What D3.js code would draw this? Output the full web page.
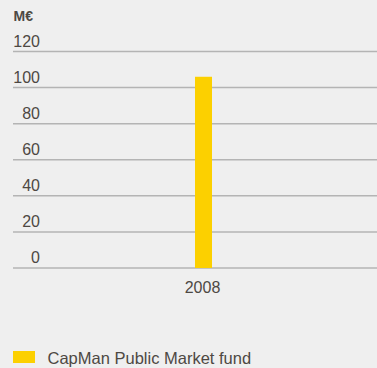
<!DOCTYPE html>
<html>
<head>
<meta charset="utf-8">
<script src="https://cdn.jsdelivr.net/npm/d3@7"></script>
<style>
  html, body { margin: 0; padding: 0; background: #efefef; }
  svg { display: block; }
  text { font-family: "Liberation Sans", Arial, Helvetica, sans-serif; fill: #4d4843; }
</style>
</head>
<body>
<svg id="chart" width="377" height="368"></svg>
<script>
// Annual values, M€
const years = ["2008"];
const publicMarketFund = [106];
const yTicks = [0, 20, 40, 60, 80, 100, 120];
const unitLabel = "M€";
const seriesName = "CapMan Public Market fund";

const W = 377, H = 368;
const barColor = "#fcd000";
const gridColor = "#b4b4b4";

const svg = d3.select("#chart");

const y = d3.scaleLinear().domain([0, 120]).range([268, 51.5]);
const x = d3.scaleBand().domain(years).range([30, 377]).paddingInner(0).paddingOuter(9.7);

// Horizontal gridlines with value labels sitting above each line
const grid = svg.append("g");
grid.selectAll("line")
  .data(yTicks)
  .join("line")
  .attr("x1", 13).attr("x2", W)
  .attr("y1", d => y(d)).attr("y2", d => y(d))
  .attr("stroke", gridColor)
  .attr("stroke-width", 1.5);

grid.selectAll("text")
  .data(yTicks)
  .join("text")
  .attr("x", 40)
  .attr("y", d => y(d) - 5)
  .attr("text-anchor", "end")
  .style("font-size", "16px")
  .text(d => d);

// Unit label
svg.append("text")
  .attr("x", 13.5).attr("y", 21)
  .style("font-size", "14px")
  .style("font-weight", "bold")
  .text(unitLabel);

// Bars
svg.append("g").selectAll("rect")
  .data(years.map((yr, i) => ({ yr, v: publicMarketFund[i] })))
  .join("rect")
  .attr("x", d => x(d.yr))
  .attr("width", x.bandwidth())
  .attr("y", d => y(d.v))
  .attr("height", d => y(0) - y(d.v))
  .attr("fill", barColor);

// Category labels
svg.append("g").selectAll("text")
  .data(years)
  .join("text")
  .attr("x", d => x(d) + x.bandwidth() / 2 - 1)
  .attr("y", 293)
  .attr("text-anchor", "middle")
  .style("font-size", "16px")
  .text(d => d);

// Legend
const legend = svg.append("g");
legend.append("rect")
  .attr("x", 13).attr("y", 351)
  .attr("width", 22).attr("height", 12)
  .attr("fill", barColor);
legend.append("text")
  .attr("x", 47.5).attr("y", 363.5)
  .style("font-size", "16.5px")
  .text(seriesName);
</script>
</body>
</html>
